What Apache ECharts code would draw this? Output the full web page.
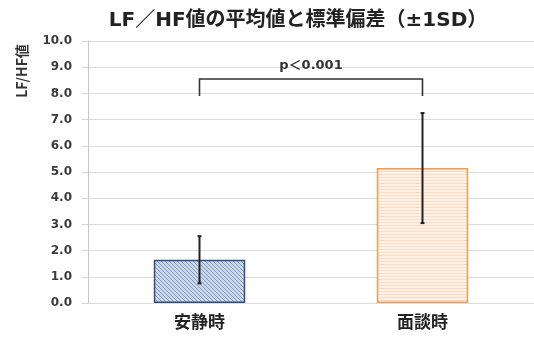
<!DOCTYPE html>
<html>
<head>
<meta charset="utf-8">
<script src="https://cdn.jsdelivr.net/npm/echarts@6/dist/echarts.min.js"></script>
<style>
  html, body { margin: 0; padding: 0; background: #fff; }
  #chart { width: 534px; height: 339px; }
</style>
</head>
<body>
<div id="chart"></div>
<script>
// LF/HF mean and standard deviation per condition
var categories = ['安静時', '面談時'];
var means = [1.65, 5.15];
var sds = [0.9, 2.1];
var yTicks = [0, 1, 2, 3, 4, 5, 6, 7, 8, 9, 10];
// significance bracket (y values) and its label
var bracketTop = 8.55;
var bracketBottom = 7.9;
var bracketLabelY = 9.05;
var pLabel = 'p＜0.001';

var FONT = '"Noto Sans CJK JP", "Noto Sans", sans-serif';
var WIDE_FONT = '"DejaVu Sans", "Noto Sans CJK JP", sans-serif';

function makePattern(bg, line, kind) {
  var c = document.createElement('canvas');
  var s = kind === 'diag' ? 4 : 3;
  c.width = s; c.height = s;
  var g = c.getContext('2d');
  g.fillStyle = bg;
  g.fillRect(0, 0, s, s);
  g.strokeStyle = line;
  g.lineWidth = 1;
  g.beginPath();
  if (kind === 'diag') {
    g.moveTo(-1, -1); g.lineTo(s + 1, s + 1);
    g.moveTo(-1, s - 1); g.lineTo(1, s + 1);
    g.moveTo(s - 1, -1); g.lineTo(s + 1, 1);
  } else {
    g.moveTo(0, 0.5); g.lineTo(s, 0.5);
  }
  g.stroke();
  return c;
}

var bluePattern = makePattern('#cbd8ec', '#7f98c2', 'diag');
var orangePattern = makePattern('#fff1e6', '#fbdcc4', 'horiz');

var barStyles = [
  { color: { image: bluePattern, repeat: 'repeat' }, borderColor: '#2e4f7c', borderWidth: 1.5 },
  { color: { image: orangePattern, repeat: 'repeat' }, borderColor: '#f59a4f', borderWidth: 1.5 }
];

var barData = means.map(function (v, i) {
  return { value: v, itemStyle: barStyles[i] };
});
var errData = means.map(function (v, i) {
  return [i, v - sds[i], v + sds[i]];
});

var chart = echarts.init(document.getElementById('chart'), null, { renderer: 'canvas' });
chart.setOption({
  animation: false,
  backgroundColor: '#ffffff',
  title: {
    text: 'LF／HF値の平均値と標準偏差（±1SD）',
    left: 293, top: 6, textAlign: 'center',
    textStyle: { fontFamily: WIDE_FONT, fontSize: 20, fontWeight: 'bold', color: '#222' }
  },
  graphic: [{
    type: 'text',
    x: 22, y: 71,
    rotation: Math.PI / 2,
    style: {
      text: 'LF/HF値', fontFamily: FONT, fontSize: 14, fontWeight: 'bold',
      fill: '#333', align: 'center', verticalAlign: 'middle'
    }
  }],
  grid: { left: 88, right: 0, top: 41, bottom: 36 },
  xAxis: {
    type: 'category',
    data: categories,
    axisLine: { show: false },
    axisTick: { show: false },
    axisLabel: { margin: 10, fontFamily: FONT, fontSize: 17, fontWeight: 'bold', color: '#222' }
  },
  yAxis: {
    type: 'value',
    min: yTicks[0], max: yTicks[yTicks.length - 1], interval: 1,
    axisLine: { show: true, lineStyle: { color: '#c8c8c8', width: 1 } },
    axisTick: { show: true, length: 6, lineStyle: { color: '#d4d4d4' } },
    splitLine: { lineStyle: { color: '#dcdcdc', width: 1 } },
    axisLabel: {
      margin: 16, fontFamily: WIDE_FONT, fontSize: 12, fontWeight: 'bold', color: '#3a3a3a',
      formatter: function (v) { return v.toFixed(1); }
    }
  },
  series: [
    {
      type: 'bar',
      data: barData,
      barWidth: '41%',
      z: 2
    },
    {
      type: 'custom',
      data: errData,
      z: 5,
      renderItem: function (params, api) {
        var x = api.value(0);
        var lo = api.coord([x, api.value(1)]);
        var hi = api.coord([x, api.value(2)]);
        var st = { stroke: '#222', lineWidth: 2 };
        return {
          type: 'group',
          children: [
            { type: 'line', shape: { x1: lo[0], y1: lo[1], x2: hi[0], y2: hi[1] }, style: st },
            { type: 'line', shape: { x1: hi[0] - 2, y1: hi[1], x2: hi[0] + 2, y2: hi[1] }, style: st },
            { type: 'line', shape: { x1: lo[0] - 2, y1: lo[1], x2: lo[0] + 2, y2: lo[1] }, style: st }
          ]
        };
      }
    },
    {
      type: 'custom',
      data: [[0, 1, bracketTop, bracketBottom, bracketLabelY]],
      z: 6,
      renderItem: function (params, api) {
        var a = api.coord([api.value(0), api.value(2)]);
        var b = api.coord([api.value(1), api.value(2)]);
        var aBot = api.coord([api.value(0), api.value(3)]);
        var lab = api.coord([(api.value(0) + api.value(1)) / 2, api.value(4)]);
        var st = { stroke: '#333', lineWidth: 1.6, fill: null };
        return {
          type: 'group',
          children: [
            { type: 'polyline', shape: { points: [[a[0], aBot[1]], a, b, [b[0], aBot[1]]] }, style: st },
            {
              type: 'text', x: (a[0] + b[0]) / 2, y: lab[1],
              style: {
                text: pLabel, fontFamily: WIDE_FONT, fontSize: 13, fontWeight: 'bold',
                fill: '#333', align: 'center', verticalAlign: 'middle'
              }
            }
          ]
        };
      }
    }
  ]
});
</script>
</body>
</html>
